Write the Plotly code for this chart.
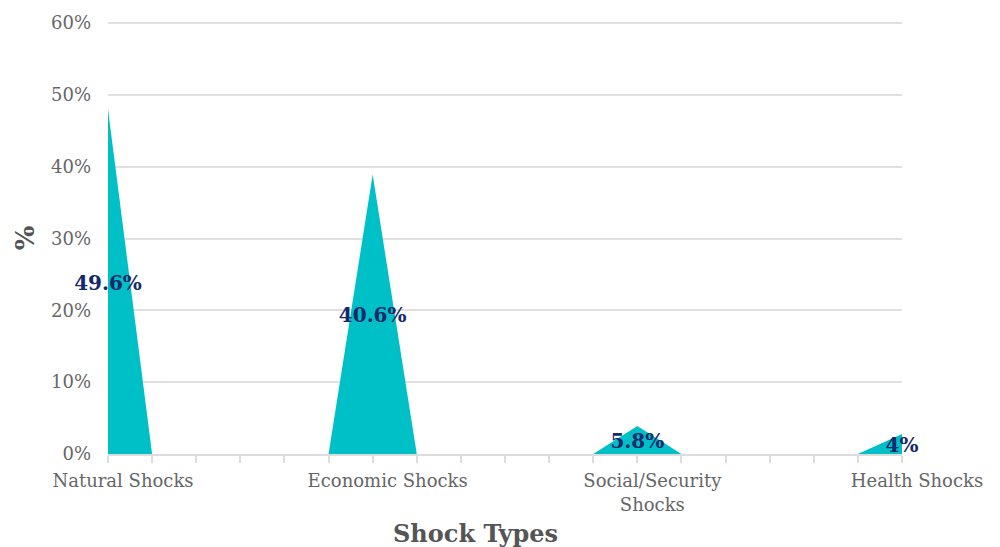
import plotly.graph_objects as go

categories = ["Natural Shocks", "Economic Shocks", "Social/Security<br>Shocks", "Health Shocks"]
shares = [49.6, 40.6, 5.8, 4.0]          # label values (%)
peak_heights = [48.0, 38.9, 3.9, 2.8]    # drawn triangle peak heights (%)
y_tick_vals = [0, 10, 20, 30, 40, 50, 60]
y_tick_text = ["0%", "10%", "20%", "30%", "40%", "50%", "60%"]

FONT = "Georgia, 'DejaVu Serif', serif"
TEAL = "#00c0c7"
NAVY = "#14286b"
GREY = "#666666"

fig = go.Figure()
half = 1 / 6
for i, h in enumerate(peak_heights):
    fig.add_trace(go.Scatter(
        x=[i - half, i, i + half, i - half],
        y=[0, h, 0, 0],
        mode="lines", fill="toself", fillcolor=TEAL,
        line=dict(width=0, color=TEAL), hoverinfo="skip", showlegend=False,
    ))

fig.add_trace(go.Scatter(
    x=list(range(len(categories))),
    y=[h / 2 - 0.4 for h in peak_heights],
    mode="text",
    text=[f"{v:g}%" for v in shares],
    textposition="middle center",
    textfont=dict(family=FONT, size=20, color=NAVY, weight="bold"),
    cliponaxis=False, showlegend=False, hoverinfo="skip",
))

fig.update_layout(
    width=1000, height=547,
    margin=dict(l=108, r=98, t=22, b=93),
    paper_bgcolor="white", plot_bgcolor="white",
    font=dict(family=FONT, color=GREY),
    xaxis=dict(
        range=[0, 3], tickmode="array",
        tickvals=list(range(len(categories))), ticktext=categories,
        ticks="outside", ticklen=7, tickcolor="#dddddd", tickwidth=1.5,
        minor=dict(dtick=half, tick0=0, ticks="outside", ticklen=7, tickcolor="#dddddd", tickwidth=1.5),
        showgrid=False, zeroline=False,
        showline=True, linecolor="#dddddd", linewidth=1.5,
        tickfont=dict(family=FONT, size=18, color=GREY),
        ticklabelshift=15, ticklabelstandoff=3,
    ),
    yaxis=dict(
        range=[0, 60.15], tickmode="array", tickvals=y_tick_vals, ticktext=y_tick_text,
        showgrid=True, gridcolor="#e0e0e0", gridwidth=1.5,
        zeroline=False, showline=False, ticks="",
        ticklabelstandoff=16,
        tickfont=dict(family=FONT, size=18, color=GREY),
        title=dict(text="%", font=dict(family=FONT, size=26, color="#555555", weight="bold"), standoff=8),
    ),
    annotations=[dict(
        text="Shock Types", xref="paper", yref="paper", x=0.5, y=0,
        xshift=-30, yshift=-96, showarrow=False,
        font=dict(family=FONT, size=24, color="#555555", weight="bold"),
    )],
)

fig.write_html("out.html")
